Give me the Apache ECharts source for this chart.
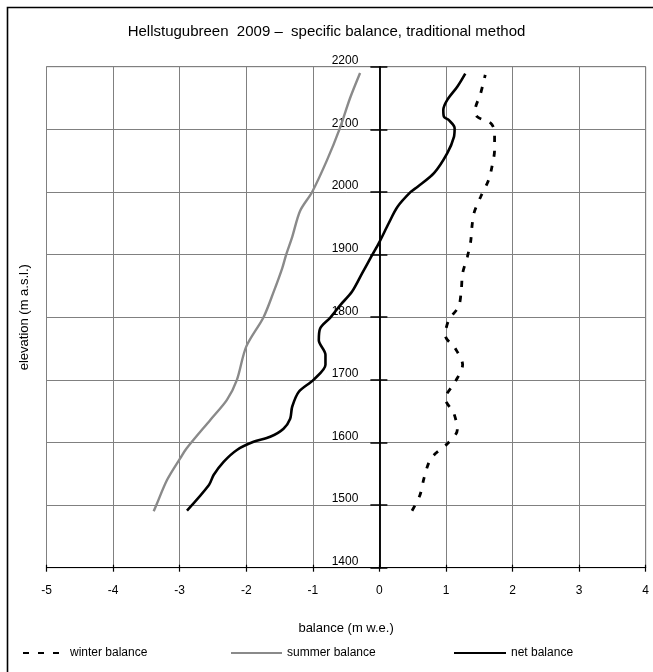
<!DOCTYPE html>
<html>
<head>
<meta charset="utf-8">
<script src="https://cdn.jsdelivr.net/npm/echarts@6/dist/echarts.min.js"></script>
<style>
  html, body { margin: 0; padding: 0; background: #fff; }
  #chart { width: 653px; height: 672px; }
</style>
</head>
<body>
<div id="chart"></div>
<script>
// Hellstugubreen 2009 specific balance profiles (m w.e.) against elevation (m a.s.l.)
const winterElev = [1491, 1516, 1543, 1567, 1580, 1598, 1620, 1646, 1670, 1697, 1724, 1750, 1771, 1795, 1817, 1843, 1870, 1896, 1920, 1944, 1966, 1992, 2019, 2040, 2067, 2096, 2110, 2120, 2131, 2157, 2187];
const winterBal  = [0.49, 0.61, 0.67, 0.74, 0.82, 1.02, 1.17, 1.12, 0.99, 1.14, 1.25, 1.14, 0.99, 1.04, 1.19, 1.23, 1.25, 1.32, 1.37, 1.39, 1.42, 1.52, 1.64, 1.69, 1.73, 1.73, 1.67, 1.47, 1.44, 1.52, 1.59];

const summerElev = [1490, 1500, 1540, 1575, 1590, 1636, 1668, 1700, 1753, 1800, 1840, 1878, 1900, 1928, 1970, 2000, 2050, 2100, 2150, 2190];
const summerBal  = [-3.39, -3.35, -3.19, -2.99, -2.90, -2.54, -2.29, -2.14, -2.00, -1.74, -1.59, -1.46, -1.40, -1.31, -1.19, -1.01, -0.79, -0.60, -0.44, -0.29];

const netElev = [1491, 1532, 1548, 1569, 1588, 1601, 1609, 1622, 1638, 1657, 1681, 1700, 1724, 1740, 1763, 1782, 1799, 1819, 1841, 1870, 1899, 1920, 1950, 1976, 2000, 2008, 2030, 2062, 2088, 2102, 2115, 2120, 2131, 2147, 2168, 2189];
const netBal  = [-2.89, -2.56, -2.49, -2.34, -2.14, -1.89, -1.64, -1.44, -1.34, -1.31, -1.21, -0.99, -0.81, -0.81, -0.91, -0.89, -0.74, -0.59, -0.41, -0.26, -0.11, 0.00, 0.14, 0.27, 0.47, 0.57, 0.82, 1.02, 1.12, 1.13, 1.04, 0.97, 0.96, 1.02, 1.17, 1.29];

const seriesNames = ['winter balance', 'summer balance', 'net balance'];
const xTicks = { min: -5, max: 4, step: 1 };
const yTicks = { min: 1400, max: 2200, step: 100 };

const pairs = (bal, elev) => bal.map((b, i) => [b, elev[i]]);

const FONT = 'Liberation Sans, Arial, sans-serif';
const GRID_GREY = '#808080';

// Plot rectangle inside the 653 x 672 canvas
const W = 653;
const plot = { left: 46.5, right: 7.3, top: 66.7, bottom: 104.3 };
const plotWidth = W - plot.left - plot.right;
// The elevation axis crosses the balance axis at 0: shift it from the left edge by that distance
const zeroShift = plotWidth * (0 - xTicks.min) / (xTicks.max - xTicks.min);

// One legend entry per series, laid out along the bottom row
const legendSlots = [
  { left: 17, itemWidth: 42 },
  { left: 225, itemWidth: 51 },
  { left: 448, itemWidth: 52 }
];
const legends = seriesNames.map((name, i) => ({
  data: [name],
  bottom: 8,
  left: legendSlots[i].left,
  itemWidth: legendSlots[i].itemWidth,
  itemHeight: 12,
  itemStyle: { opacity: 0, borderWidth: 0 },
  textStyle: { fontFamily: FONT, fontSize: 12, color: '#000' }
}));

const chart = echarts.init(document.getElementById('chart'), null, { renderer: 'canvas' });

chart.setOption({
  backgroundColor: '#fff',
  animation: false,
  textStyle: { fontFamily: FONT, color: '#000' },
  title: {
    text: 'Hellstugubreen  2009 \u2013  specific balance, traditional method',
    left: 'center',
    top: 19,
    textStyle: { fontFamily: FONT, fontSize: 15, fontWeight: 'normal', color: '#000' }
  },
  graphic: [{
    type: 'rect',
    shape: { x: 7.5, y: 7.5, width: 700, height: 700 },
    style: { fill: null, stroke: '#000', lineWidth: 1.6 },
    silent: true
  }],
  grid: {
    left: plot.left, right: plot.right, top: plot.top, bottom: plot.bottom,
    containLabel: false,
    outerBoundsMode: 'none',
    show: true, borderColor: GRID_GREY, borderWidth: 1, backgroundColor: 'transparent'
  },
  legend: legends,
  xAxis: [{
    type: 'value',
    min: xTicks.min, max: xTicks.max, interval: xTicks.step,
    name: 'balance (m w.e.)',
    nameLocation: 'middle',
    nameGap: 54,
    nameTextStyle: { fontFamily: FONT, fontSize: 13, color: '#000' },
    axisLine: { show: true, onZero: false, lineStyle: { color: '#000', width: 1.2 } },
    axisTick: { show: true, length: 4, lineStyle: { color: '#000', width: 1.2 } },
    axisLabel: { margin: 17, fontFamily: FONT, fontSize: 12, color: '#000', formatter: v => String(v) },
    splitLine: { show: true, lineStyle: { color: GRID_GREY, width: 1 } }
  }, {
    type: 'value', position: 'bottom',
    min: xTicks.min, max: xTicks.max, interval: xTicks.step,
    axisLine: { show: false, onZero: false },
    axisTick: { show: true, inside: true, length: 3, lineStyle: { color: '#000', width: 1.2 } },
    axisLabel: { show: false },
    splitLine: { show: false }
  }],
  yAxis: [{
    type: 'value',
    position: 'left',
    offset: -zeroShift,
    min: yTicks.min, max: yTicks.max, interval: yTicks.step,
    name: 'elevation (m a.s.l.)',
    nameLocation: 'middle',
    nameGap: 348,
    nameRotate: 90,
    nameTextStyle: { fontFamily: FONT, fontSize: 13, color: '#000' },
    axisLine: { show: true, onZero: false, lineStyle: { color: '#000', width: 1.5 } },
    axisTick: { show: true, length: 9, lineStyle: { color: '#000', width: 1.5 } },
    axisLabel: { margin: 21, verticalAlign: 'bottom', fontFamily: FONT, fontSize: 12, color: '#000', formatter: v => String(v) },
    splitLine: { show: true, lineStyle: { color: GRID_GREY, width: 1 } }
  }, {
    type: 'value',
    position: 'left',
    offset: -zeroShift,
    min: yTicks.min, max: yTicks.max, interval: yTicks.step,
    axisLine: { show: true, onZero: false, lineStyle: { color: '#000', width: 1.5 } },
    axisTick: { show: true, inside: true, length: 8, lineStyle: { color: '#000', width: 1.5 } },
    axisLabel: { show: false },
    splitLine: { show: false }
  }],
  series: [{
    name: seriesNames[0],
    type: 'line',
    data: pairs(winterBal, winterElev),
    symbol: 'none',
    smooth: 0.3,
    lineStyle: { color: '#000', width: 2.8, type: [6, 9], cap: 'butt' },
    itemStyle: { color: '#000' },
    z: 3
  }, {
    name: seriesNames[1],
    type: 'line',
    data: pairs(summerBal, summerElev),
    symbol: 'none',
    smooth: 0.3,
    lineStyle: { color: '#8a8a8a', width: 2.4 },
    itemStyle: { color: '#8a8a8a' },
    z: 3
  }, {
    name: seriesNames[2],
    type: 'line',
    data: pairs(netBal, netElev),
    symbol: 'none',
    smooth: 0.3,
    lineStyle: { color: '#000', width: 2.6 },
    itemStyle: { color: '#000' },
    z: 4
  }]
});
</script>
</body>
</html>
